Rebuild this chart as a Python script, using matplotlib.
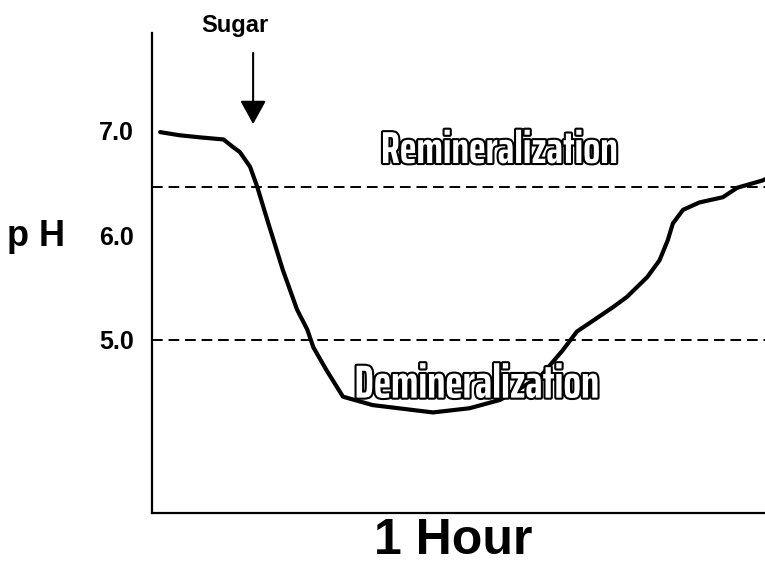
import matplotlib
matplotlib.use('Agg')
import matplotlib.pyplot as plt
import matplotlib.patheffects as pe

# Stephan curve: plaque pH over one hour after a sugar exposure
minutes = [0.8, 2.7, 4.7, 7.0, 7.9, 8.6, 9.6, 10.3, 11.3, 12.8, 14.2, 15.2,
           15.8, 17.1, 18.7, 21.6, 27.5, 31.1, 34.1, 38.0, 40.2, 41.6, 45.1,
           46.5, 48.5, 49.7, 50.5, 51.0, 52.0, 53.6, 55.9, 57.3, 59.8, 60.0]
ph = [6.98, 6.95, 6.93, 6.91, 6.84, 6.79, 6.65, 6.46, 6.14, 5.67, 5.29, 5.10,
      4.93, 4.71, 4.46, 4.38, 4.31, 4.35, 4.43, 4.65, 4.90, 5.08, 5.31,
      5.41, 5.60, 5.76, 5.95, 6.11, 6.24, 6.31, 6.36, 6.45, 6.52, 6.53]

tick_values = [7.0, 6.0, 5.0]
tick_labels = ['7.0', '6.0', '5.0']
threshold_levels = [6.46, 5.0]
sugar_time = 9.9

plt.rcParams['font.family'] = ['Liberation Sans', 'DejaVu Sans']
outline_font = ['Saira ExtraCondensed', 'Fira Sans Extra Condensed', 'DejaVu Sans']

fig = plt.figure(figsize=(7.65, 5.69), dpi=100)
ax = fig.add_axes([0.1987, 0.0984, 0.801, 0.8436])

ax.plot(minutes, ph, color='black', linewidth=3.0, solid_capstyle='round')
for level in threshold_levels:
    ax.axhline(level, color='black', linewidth=1.4, linestyle=(0, (5.5, 3)))

ax.set_xlim(0, 60)
ax.set_ylim(3.352, 7.924)
ax.set_xticks([])
ax.set_yticks(tick_values)
ax.set_yticklabels(tick_labels, fontsize=18, fontweight='bold')
ax.tick_params(axis='y', length=0, pad=13)

for side in ['top', 'right']:
    ax.spines[side].set_visible(False)
ax.spines['left'].set_linewidth(1.6)
ax.spines['bottom'].set_linewidth(1.6)

# sugar arrow
ax.annotate('', xy=(sugar_time, 7.03), xytext=(sugar_time, 7.76),
            arrowprops=dict(arrowstyle='-|>,head_length=1.45,head_width=0.8',
                            color='black', lw=1.5), annotation_clip=False)
ax.text(8.1, 8.0, 'Sugar', ha='center', va='center', fontsize=17,
        fontweight='bold', clip_on=False)

outline = [pe.withStroke(linewidth=3.0, foreground='black')]
labels = [
    ax.text(34.0, 6.8, 'Remineralization', ha='center', va='center', fontsize=30,
            fontweight='bold', color='white', family=outline_font, path_effects=outline),
    ax.text(31.8, 4.57, 'Demineralization', ha='center', va='center', fontsize=30,
            fontweight='bold', color='white', family=outline_font, path_effects=outline),
]
# fit the outlined words to the width they take in the original
target_widths = [237, 245]
renderer = fig.canvas.get_renderer()
for t, w in zip(labels, target_widths):
    cur = t.get_window_extent(renderer).width
    t.set_fontsize(t.get_fontsize() * w / cur)

fig.text(36 / 765, 1 - 237 / 569, 'p H', ha='center', va='center',
         fontsize=26, fontweight='bold')
fig.text(453 / 765, 1 - 541 / 569, '1 Hour', ha='center', va='center',
         fontsize=36, fontweight='bold')

fig.savefig('out.png', dpi=100)
